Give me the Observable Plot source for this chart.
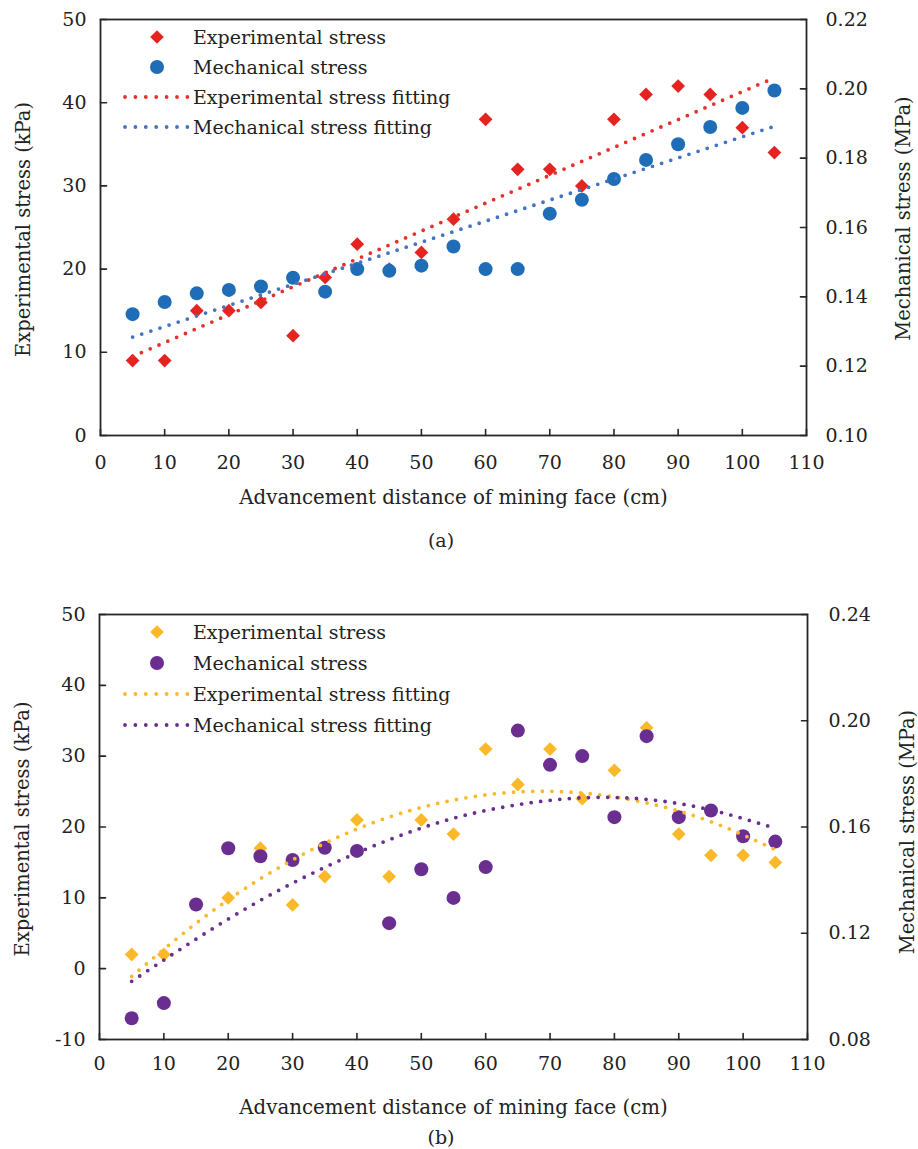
<!DOCTYPE html>
<html>
<head>
<meta charset="utf-8">
<script src="https://cdn.jsdelivr.net/npm/d3@7"></script>
<script src="https://cdn.jsdelivr.net/npm/@observablehq/plot@0.6"></script>
<style>
  html, body { margin: 0; padding: 0; background: #fff; }
  #page { position: relative; width: 918px; height: 1149px; background: #fff; font-family: "DejaVu Serif", serif; color: #222; overflow: hidden; }
  .abs { position: absolute; }
  .cap { position: absolute; font-size: 19px; line-height: 24px; text-align: center; width: 80px; }
</style>
</head>
<body>
<div id="page">
  <div id="chartA" class="abs" style="left:0;top:0"></div>
  <div id="chartB" class="abs" style="left:0;top:560px"></div>
  <div class="cap" style="left:401px;top:528px">(a)</div>
  <div class="cap" style="left:401px;top:1125px">(b)</div>
</div>
<script>
// ---------- data ----------
const distance = [5, 10, 15, 20, 25, 30, 35, 40, 45, 50, 55, 60, 65, 70, 75, 80, 85, 90, 95, 100, 105];

// (a)
const expStressA = [9, 9, 15, 15, 16, 12, 19, 23, 20, 22, 26, 38, 32, 32, 30, 38, 41, 42, 41, 37, 34];
const mechStressA = [0.135, 0.1385, 0.141, 0.142, 0.143, 0.1455, 0.1415, 0.148, 0.1475, 0.149, 0.1545, 0.148, 0.148,
                     0.164, 0.168, 0.174, 0.1795, 0.184, 0.189, 0.1945, 0.1995];
const fitDistanceA = [5, 105];
const expFitA = [9.5, 43.0];
const mechFitA = [0.1284, 0.1892];

// (b)
const expStressB = [2, 2, 9, 10, 17, 9, 13, 21, 13, 21, 19, 31, 26, 31, 24, 28, 34, 19, 16, 16, 15];
const mechStressB = [0.088, 0.0937, 0.1308, 0.152, 0.149, 0.1476, 0.1522, 0.151, 0.1238, 0.1441, 0.1333, 0.1449,
                     0.1963, 0.1834, 0.1867, 0.1637, 0.1942, 0.1637, 0.1662, 0.1565, 0.1545];
const fitDistanceB = [5, 15, 25, 35, 45, 55, 65, 75, 85, 95, 105];
const expFitB = [-1.1, 6.4, 12.7, 17.7, 21.4, 23.8, 24.95, 24.8, 23.4, 20.75, 16.8];
const mechFitB = [0.1019, 0.1178, 0.1324, 0.1448, 0.1552, 0.1633, 0.1684, 0.1710, 0.1704, 0.1664, 0.1595];

// ticks
const xTicks = [0, 10, 20, 30, 40, 50, 60, 70, 80, 90, 100, 110];
const leftTicksA = [0, 10, 20, 30, 40, 50];
const rightTicksA = [0.10, 0.12, 0.14, 0.16, 0.18, 0.20, 0.22];
const leftTicksB = [-10, 0, 10, 20, 30, 40, 50];
const rightTicksB = [0.08, 0.12, 0.16, 0.20, 0.24];

const xLabel = "Advancement distance of mining face (cm)";
const leftLabel = "Experimental stress (kPa)";
const rightLabel = "Mechanical stress (MPa)";
const legendLabels = ["Experimental stress", "Mechanical stress", "Experimental stress fitting", "Mechanical stress fitting"];

// colours
const colorsA = {exp: "#e52421", mech: "#1f6db6", expFit: "#e8302a", mechFit: "#4472c4"};
const colorsB = {exp: "#fbb829", mech: "#6a2d90", expFit: "#fbb829", mechFit: "#6a2d90"};

const FONT = "DejaVu Serif";
const INK = "#222";
const AXIS = "#262626";

// inward tick shape: a straight segment of length l from the anchor point
const tickShape = {draw(context, l) { context.moveTo(0, 0); context.lineTo(0, -l); }};

function buildChart(cfg) {
  const mapR = d3.scaleLinear().domain(cfg.rDomain).range(cfg.yDomain);
  const pts = distance.map((x, i) => ({x, exp: cfg.exp[i], mech: cfg.mech[i]}));
  const fitPts = cfg.fitX.map((x, i) => ({x, exp: cfg.expFit[i], mech: cfg.mechFit[i]}));
  const dash = {strokeWidth: 3.8, strokeDasharray: "0 9.6", strokeLinecap: "round"};
  const tickStyle = {length: 6, anchor: "start", shape: tickShape, stroke: AXIS, strokeWidth: 1.6};
  return Plot.plot({
    width: 918,
    height: cfg.height,
    marginTop: cfg.mt,
    marginBottom: cfg.mb,
    marginLeft: cfg.ml,
    marginRight: cfg.mr,
    style: {fontFamily: FONT, fontSize: "19px", color: INK, background: "white", overflow: "visible"},
    x: {domain: [0, 110]},
    y: {domain: cfg.yDomain},
    marks: [
      // data points
      Plot.dot(pts, {x: "x", y: "exp", symbol: "diamond2", r: 6.2, fill: cfg.colors.exp, stroke: "none"}),
      Plot.dot(pts, {x: "x", y: d => mapR(d.mech), symbol: "circle", r: 7, fill: cfg.colors.mech, stroke: "none"}),
      // fits
      Plot.line(fitPts, {x: "x", y: "exp", stroke: cfg.colors.expFit, curve: "natural", ...dash}),
      Plot.line(fitPts, {x: "x", y: d => mapR(d.mech), stroke: cfg.colors.mechFit, curve: "natural", ...dash}),
      // frame
      Plot.frame({stroke: AXIS, strokeWidth: 1.8}),
      // inward tick marks
      Plot.vector(xTicks, {x: d => d, frameAnchor: "bottom", rotate: 0, ...tickStyle}),
      Plot.vector(cfg.leftTicks, {y: d => d, frameAnchor: "left", rotate: 90, ...tickStyle}),
      Plot.vector(cfg.rightTicks, {y: d => mapR(d), frameAnchor: "right", rotate: -90, ...tickStyle}),
      // tick labels
      Plot.axisX(xTicks, {anchor: "bottom", tickSize: 0, tickPadding: cfg.xPad, tickFormat: d => String(d), label: null}),
      Plot.axisY(cfg.leftTicks, {anchor: "left", tickSize: 0, tickPadding: 14, tickFormat: d => String(d), label: null}),
      Plot.axisY(cfg.rightTicks, {anchor: "right", y: d => mapR(d), tickSize: 0, tickPadding: cfg.rPad, tickFormat: d => d.toFixed(2), label: null}),
      // axis titles
      Plot.text([xLabel], {frameAnchor: "bottom", text: d => d, textAnchor: "middle", dy: cfg.xTitleDy, lineAnchor: "middle", fill: INK, fontSize: 19.8}),
      Plot.text([leftLabel], {frameAnchor: "left", text: d => d, textAnchor: "middle", rotate: -90, dx: -77, dy: cfg.leftTitleDy, lineAnchor: "middle", fill: INK, fontSize: 19.5}),
      Plot.text([rightLabel], {frameAnchor: "right", text: d => d, textAnchor: "middle", rotate: -90, dx: cfg.rightTitleDx, dy: cfg.rightTitleDy, lineAnchor: "middle", fill: INK, fontSize: 19.5})
    ]
  });
}

function buildLegend(colors, rows) {
  const ox = 110, oy = rows[0] - 20;
  const svg = d3.create("svg")
    .attr("width", 330).attr("height", 130)
    .style("position", "absolute").style("left", ox + "px").style("top", oy + "px")
    .style("overflow", "visible");
  const g = svg.append("g").attr("transform", `translate(${-ox},${-oy})`);
  const mx = 157, tx = 193;
  g.append("path").attr("d", `M${mx},${rows[0] - 6.8}L${mx + 6.8},${rows[0]}L${mx},${rows[0] + 6.8}L${mx - 6.8},${rows[0]}Z`).attr("fill", colors.exp);
  g.append("circle").attr("cx", mx).attr("cy", rows[1]).attr("r", 7).attr("fill", colors.mech);
  [[rows[2], colors.expFit], [rows[3], colors.mechFit]].forEach(([yy, c]) => {
    g.append("line").attr("x1", 125).attr("x2", 187.5).attr("y1", yy).attr("y2", yy)
      .attr("stroke", c).attr("stroke-width", 3.8).attr("stroke-dasharray", "0 10.4").attr("stroke-linecap", "round");
  });
  legendLabels.forEach((t, i) => {
    g.append("text").attr("x", tx).attr("y", rows[i]).attr("dy", "0.35em")
      .attr("font-family", FONT).attr("font-size", 19).attr("fill", INK).text(t);
  });
  document.getElementById("page").appendChild(svg.node());
}

document.getElementById("chartA").appendChild(buildChart({
  height: 520, mt: 19, mb: 85, ml: 100, mr: 112,
  yDomain: [0, 50], rDomain: [0.10, 0.22],
  exp: expStressA, mech: mechStressA, fitX: fitDistanceA, expFit: expFitA, mechFit: mechFitA,
  leftTicks: leftTicksA, rightTicks: rightTicksA, colors: colorsA,
  xPad: 20, rPad: 19, xTitleDy: 62, leftTitleDy: 2, rightTitleDx: 97, rightTitleDy: -9
}));

document.getElementById("chartB").appendChild(buildChart({
  height: 565, mt: 54, mb: 86, ml: 99, mr: 111,
  yDomain: [-10, 50], rDomain: [0.08, 0.24],
  exp: expStressB, mech: mechStressB, fitX: fitDistanceB, expFit: expFitB, mechFit: mechFitB,
  leftTicks: leftTicksB, rightTicks: rightTicksB, colors: colorsB,
  xPad: 17, rPad: 21, xTitleDy: 68, leftTitleDy: 2, rightTitleDx: 100, rightTitleDy: 5
}));

buildLegend(colorsA, [37, 67, 97, 127]);
buildLegend(colorsB, [632, 663, 694, 725]);
</script>
</body>
</html>
